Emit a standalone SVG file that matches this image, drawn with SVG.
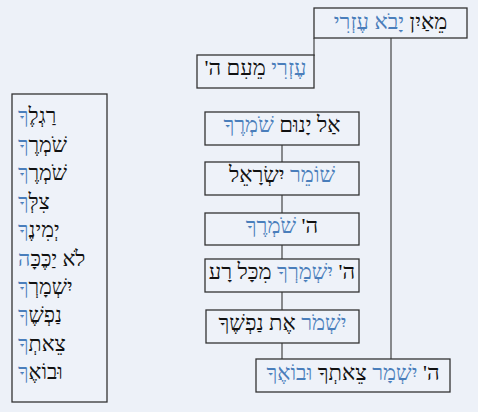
<svg xmlns="http://www.w3.org/2000/svg" width="478" height="412" viewBox="0 0 478 412">
<style>
.bg{fill:#EDF1F8}
.box{fill:#EEF2F9;stroke:#333333;stroke-width:1.3}
.cn{stroke:#333333;stroke-width:1.1;fill:none}
.t{font-family:"Liberation Serif","DejaVu Serif",serif;font-size:22px;fill:#111111;direction:rtl}
.l{font-size:21.5px}
.c{text-anchor:middle}
.b{fill:#4A7EBB}
</style>
<rect class="bg" x="0" y="0" width="478" height="412"/>
<g id="connectors">
<line class="cn" x1="314" y1="38" x2="314" y2="56"/>
<line class="cn" x1="391" y1="38" x2="391" y2="359"/>
<line class="cn" x1="282" y1="145" x2="282" y2="162"/>
<line class="cn" x1="282" y1="195" x2="282" y2="213"/>
<line class="cn" x1="282" y1="245" x2="282" y2="259"/>
<line class="cn" x1="282" y1="292" x2="282" y2="310"/>
<line class="cn" x1="282" y1="343" x2="282" y2="359"/>
</g>
<g id="n-top">
<rect class="box" x="314" y="8" width="153" height="30"/>
<text class="t c" x="390.5" y="29" direction="rtl">מֵאַיִן <tspan class="b">יָבֹא עֶזְרִי</tspan></text>
</g>
<g id="n-ezri">
<rect class="box" x="197" y="55" width="117" height="33"/>
<text class="t c" x="255.5" y="75" direction="rtl"><tspan class="b">עֶזְרִי</tspan> מֵעִם ה'</text>
</g>
<g id="n1">
<rect class="box" x="205" y="112" width="154" height="33"/>
<text class="t c" x="282" y="132" direction="rtl">אַל יָנוּם <tspan class="b">שֹׁמְרֶךָ</tspan></text>
</g>
<g id="n2">
<rect class="box" x="205" y="162" width="154" height="33"/>
<text class="t c" x="282" y="182" direction="rtl"><tspan class="b">שׁוֹמֵר</tspan> יִשְׂרָאֵל</text>
</g>
<g id="n3">
<rect class="box" x="205" y="213" width="154" height="32"/>
<text class="t c" x="282" y="233" direction="rtl">ה' <tspan class="b">שֹׁמְרֶךָ</tspan></text>
</g>
<g id="n4">
<rect class="box" x="205" y="259" width="154" height="33"/>
<text class="t c" x="282" y="279" direction="rtl">ה' <tspan class="b">יִשְׁמָרְךָ</tspan> מִכָּל רָע</text>
</g>
<g id="n5">
<rect class="box" x="206" y="310" width="153" height="33"/>
<text class="t c" x="282.5" y="330" direction="rtl"><tspan class="b">יִשְׁמֹר</tspan> אֶת נַפְשֶׁךָ</text>
</g>
<g id="n6">
<rect class="box" x="256" y="359" width="194" height="33"/>
<text class="t c" x="353" y="380" direction="rtl">ה' <tspan class="b">יִשְׁמָר</tspan> צֵאתְךָ <tspan class="b">וּבוֹאֶךָ</tspan></text>
</g>
<g id="list">
<rect class="box" x="12" y="94" width="95" height="308"/>
<text class="t l" x="18" y="123" direction="rtl" text-anchor="end">רַגְלֶ<tspan class="b">ךָ</tspan></text>
<text class="t l" x="18" y="152" direction="rtl" text-anchor="end">שֹׁמְרֶ<tspan class="b">ךָ</tspan></text>
<text class="t l" x="18" y="180" direction="rtl" text-anchor="end">שֹׁמְרֶ<tspan class="b">ךָ</tspan></text>
<text class="t l" x="18" y="209" direction="rtl" text-anchor="end">צִלְּ<tspan class="b">ךָ</tspan></text>
<text class="t l" x="18" y="237" direction="rtl" text-anchor="end">יְמִינֶ<tspan class="b">ךָ</tspan></text>
<text class="t l" x="18" y="266" direction="rtl" text-anchor="end">לֹא יַכֶּכָּ<tspan class="b">ה</tspan></text>
<text class="t l" x="18" y="294" direction="rtl" text-anchor="end">יִשְׁמָרְ<tspan class="b">ךָ</tspan></text>
<text class="t l" x="18" y="322" direction="rtl" text-anchor="end">נַפְשֶׁ<tspan class="b">ךָ</tspan></text>
<text class="t l" x="18" y="351" direction="rtl" text-anchor="end">צֵאתְ<tspan class="b">ךָ</tspan></text>
<text class="t l" x="18" y="379" direction="rtl" text-anchor="end">וּבוֹאֶ<tspan class="b">ךָ</tspan></text>
</g>
</svg>
